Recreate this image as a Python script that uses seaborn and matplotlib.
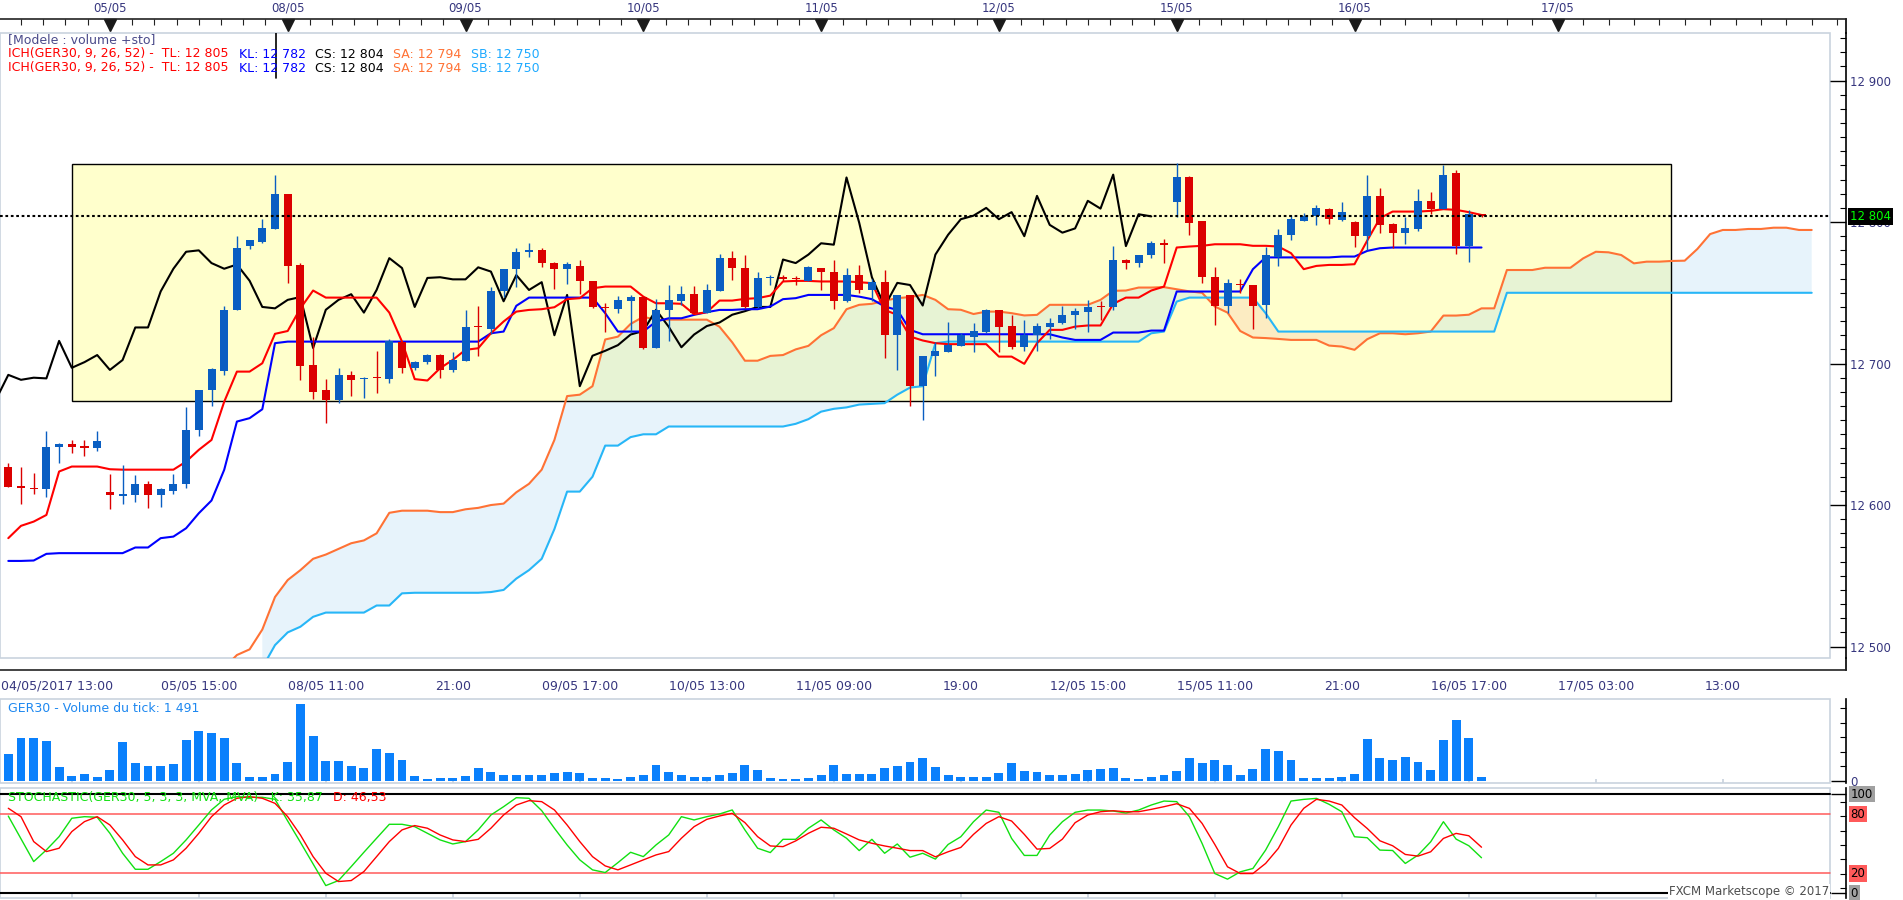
import numpy as np
import seaborn as sns
import matplotlib.pyplot as plt
import matplotlib.transforms as mtransforms
from matplotlib.patches import Rectangle
from matplotlib.ticker import FixedLocator, MultipleLocator

# GER30 hourly bars, bar index 0..116
opens = [12627, 12613.5, 12612, 12611, 12641, 12643, 12642, 12640, 12609, 12606.5,
         12607, 12615, 12607, 12610, 12615, 12653, 12681, 12695, 12738, 12783,
         12786, 12795, 12820, 12769.5, 12699, 12681, 12674, 12692, 12689, 12690,
         12689, 12715.5, 12697, 12701, 12706, 12695.5, 12702, 12726, 12724.5, 12751,
         12767, 12779, 12780, 12771, 12767, 12769, 12758.5, 12739.5, 12738.5, 12744.5,
         12747, 12711, 12737.5, 12744.5, 12749, 12736, 12751.5, 12774.5, 12767.5, 12740,
         12760.5, 12761, 12760, 12758.5, 12767.5, 12765, 12744, 12762.5, 12752, 12757.5,
         12720, 12748.5, 12684, 12705, 12708.5, 12712.5, 12719, 12722.5, 12738, 12726.5,
         12711.5, 12720.5, 12726, 12729, 12734, 12736.5, 12740.5, 12740, 12773.5, 12771,
         12776.5, 12784.5, 12814, 12831.5, 12800.5, 12761, 12741, 12756, 12755.5, 12741.5,
         12775, 12790.5, 12801, 12804, 12809, 12801.5, 12800, 12790, 12818.5, 12798.5,
         12792, 12795, 12815, 12809.5, 12834.5, 12783, 12805.5]
highs = [12630, 12627, 12622.5, 12652, 12644, 12646, 12646, 12652, 12622, 12628,
         12621, 12617, 12612, 12622, 12669, 12681, 12697, 12741, 12790, 12787,
         12802, 12833, 12820, 12771, 12719, 12689, 12697, 12695, 12690.5, 12709,
         12717, 12716, 12702, 12707, 12706.5, 12708.5, 12738, 12741, 12754, 12767,
         12781.5, 12785, 12782, 12771.5, 12771.5, 12773, 12758.5, 12742.5, 12748, 12748.5,
         12747.5, 12745.5, 12755.5, 12754.5, 12754.5, 12756, 12777.5, 12779.5, 12777, 12764.5,
         12762.5, 12762.5, 12762, 12769, 12767.5, 12773, 12767.5, 12769.5, 12760, 12766,
         12748.5, 12748.5, 12705.5, 12715.5, 12729.5, 12721.5, 12728.5, 12738.5, 12738, 12734,
         12731, 12729, 12732, 12741, 12739, 12745, 12744, 12783, 12774, 12777,
         12786.5, 12788, 12841.5, 12832.5, 12801, 12768.5, 12760, 12760, 12755.5, 12782.5,
         12795, 12805, 12806.5, 12812, 12810, 12814, 12800.5, 12833.5, 12824, 12799.5,
         12803.5, 12823.5, 12821.5, 12840, 12837, 12808.5, 12806]
lows = [12613, 12601, 12608, 12606, 12630, 12637, 12635, 12638, 12597, 12601,
        12602, 12598, 12598.5, 12608, 12612, 12649, 12670, 12692, 12738, 12781,
        12785, 12795, 12757, 12688.5, 12675, 12658, 12672, 12677, 12676, 12679.5,
        12686.5, 12693.5, 12695.5, 12700, 12690, 12694, 12702, 12705, 12721, 12747,
        12754, 12775, 12768.5, 12752.5, 12756, 12749, 12739.5, 12722.5, 12736, 12722.5,
        12710.5, 12711, 12716, 12741.5, 12735, 12735.5, 12751.5, 12759, 12739.5, 12739.5,
        12755.5, 12758, 12755.5, 12758, 12752, 12738.5, 12743.5, 12749.5, 12744, 12704,
        12695.5, 12670, 12660, 12691, 12708, 12712.5, 12708.5, 12721.5, 12708, 12710.5,
        12709, 12709, 12717, 12728, 12724.5, 12722, 12731, 12737.5, 12766.5, 12768,
        12774.5, 12771, 12803.5, 12791, 12757, 12727.5, 12735.5, 12749.5, 12724.5, 12732,
        12769, 12787.5, 12800.5, 12798, 12798.5, 12801, 12782.5, 12780.5, 12792.5, 12782,
        12784.5, 12793.5, 12806, 12809, 12777.5, 12772, 12803.5]
closes = [12613, 12612, 12611, 12641, 12643, 12641, 12640, 12645, 12607, 12607.5,
          12615, 12607, 12611, 12615, 12653, 12681, 12696, 12738, 12782, 12787,
          12796, 12820, 12769, 12698, 12680, 12674, 12692, 12688.5, 12690, 12689.5,
          12716, 12697, 12701, 12706, 12695.5, 12702.5, 12725.5, 12725.5, 12751, 12767,
          12779, 12780, 12771, 12767, 12770, 12758.5, 12740, 12739, 12745, 12747,
          12711, 12738, 12745, 12749, 12736, 12752, 12774.5, 12767.5, 12740, 12760.5,
          12761, 12759.5, 12759.5, 12768, 12765, 12744, 12762.5, 12752, 12757.5, 12720,
          12748.5, 12684, 12705.5, 12709, 12713, 12720.5, 12723, 12738, 12726, 12711.5,
          12720.5, 12726.5, 12729, 12734.5, 12737, 12740, 12740, 12773.5, 12771, 12777,
          12785, 12784, 12831.5, 12799.5, 12761, 12740.5, 12757, 12755.5, 12741, 12777,
          12791, 12802, 12804.5, 12810, 12802, 12807, 12790, 12818.5, 12798, 12792.5,
          12795.5, 12815, 12809.5, 12833.5, 12783, 12805.5, 12804]
volumes = [9900, 15900, 15900, 14900, 5100, 1700, 2500, 1500, 4000, 14400,
           6600, 5700, 5500, 6200, 15100, 18500, 17700, 15900, 6600, 1400,
           1400, 2500, 6900, 28500, 16600, 7300, 7300, 5500, 4700, 11800,
           10300, 7700, 1700, 750, 1000, 1000, 1700, 4700, 3200, 2100,
           2100, 2100, 2100, 2900, 3200, 2900, 1000, 1000, 600, 1400,
           2100, 5800, 3200, 2100, 1400, 1400, 2100, 2900, 5800, 4000,
           1000, 600, 600, 1000, 2100, 5800, 2500, 2500, 2500, 4700,
           5500, 6900, 8400, 5300, 2200, 1600, 1600, 1600, 3000, 6700,
           3700, 3300, 2200, 2200, 2600, 4100, 4500, 4800, 1100, 750,
           1500, 2200, 3700, 8700, 6700, 7800, 6000, 2200, 4500, 11900,
           11200, 7800, 1100, 1100, 1100, 1500, 2600, 15600, 8700, 7800,
           8900, 7100, 4100, 15300, 22700, 16000, 1491]
tenkan = [12576.6, 12585.3, 12588.3, 12593, 12623.7, 12627.2, 12627.2, 12627.2, 12625.3, 12625,
          12625, 12625, 12625, 12625, 12630.7, 12639, 12646, 12673, 12694.3, 12694.3,
          12700.2, 12721, 12723, 12739, 12751.6, 12746.6, 12746.6, 12746.6, 12746.6, 12746.6,
          12736, 12715.5, 12689, 12688, 12696.7, 12702.6, 12709.7, 12710.8, 12721.4, 12729.7,
          12736.7, 12737.9, 12738.4, 12739.8, 12745.5, 12746.2, 12753.2, 12754.4, 12754.4, 12754.4,
          12747.3, 12742.6, 12742.6, 12742.2, 12734.9, 12736.3, 12744.5, 12744.5, 12745.7, 12746.2,
          12748, 12758, 12758.4, 12758.4, 12758, 12758, 12758, 12757.5, 12756.8, 12737.9,
          12734.4, 12719.1, 12716.3, 12714.4, 12713.7, 12713.7, 12713.7, 12713.7, 12704.9, 12704.9,
          12699.8, 12714.4, 12723.8, 12723.8, 12726.1, 12726.9, 12726.9, 12742.2, 12746.6, 12746.6,
          12751.6, 12754.4, 12782, 12782.7, 12783.2, 12784.3, 12784.3, 12784.3, 12783.2, 12783.2,
          12782.7, 12778, 12766.7, 12769, 12769.7, 12769.7, 12770.2, 12786.9, 12802.7, 12807.4,
          12807.4, 12807.4, 12807.9, 12809.1, 12808.6, 12807, 12805]
kijun = ([12560.5, 12560.5, 12560.8, 12565.5, 12566, 12566, 12566, 12566, 12566, 12566,
          12570, 12570, 12576.6, 12577.7, 12583.6, 12594.2, 12603.2, 12624.9, 12659, 12661.4,
          12667.7, 12714.4] + [12715.5] * 16 + [12721.4, 12722.6,
          12740.8] + [12746.6] * 6 + [12735.6, 12722.6, 12722.6,
          12722.6, 12729.7, 12732, 12732, 12734.4, 12736.3, 12737.9, 12737.9, 12738.4, 12738.4,
          12740.3, 12745.5, 12746.2, 12748.5, 12748.5, 12748.5, 12748.5, 12747.3, 12745.5, 12740.3,
          12737.9, 12723.8] + [12720.7] * 11 + [12718.4, 12716.7, 12716.7, 12716.7,
          12721.9, 12721.9, 12721.9, 12723.3, 12723.3] + [12750.9] * 6 + [12766.7]
         + [12775] * 6 + [12775.6, 12775.6, 12779.6, 12781.5] + [12782] * 8)
# senkou spans are projected 26 bars ahead (index 0..142)
senkou_a = ([np.nan] * 17 + [12485, 12494, 12498,
            12512, 12535, 12547, 12554, 12562, 12565, 12569, 12573, 12575, 12580,
            12594.5, 12596, 12596, 12596, 12595, 12595, 12597, 12598, 12600, 12601,
            12609, 12615, 12625, 12646, 12677, 12678, 12684, 12717, 12719, 12728,
            12733, 12731, 12731, 12731, 12731, 12731, 12726, 12715, 12702, 12702,
            12705.4, 12706, 12710, 12712.5, 12720, 12725, 12738.4, 12741.5, 12742.2, 12744.5,
            12746.2, 12747, 12748.5, 12745, 12738.4, 12738, 12735, 12736.7, 12736.7, 12735.6,
            12734, 12734.4, 12741.5, 12741.5, 12741.5, 12741.5, 12745, 12751.4, 12751.6, 12753.7,
            12753.7, 12754, 12752.5, 12751, 12750, 12740.3, 12736, 12723, 12718.4, 12718,
            12717.4, 12716.7, 12716.7, 12716.7, 12712.7, 12712, 12709.7, 12717.2, 12721.4, 12721.4,
            12720.7, 12721.4, 12722.6, 12733.9, 12733.9, 12734.5, 12739, 12739, 12766.1, 12766.1,
            12766.1, 12767.7, 12767.7, 12767.7, 12774.3, 12779, 12778.6, 12776.7, 12770.8, 12772,
            12772, 12772.5, 12772.7, 12781, 12791.5, 12794.4, 12794.4, 12795.1, 12795.1, 12796,
            12796, 12794.4, 12794.4])
senkou_b = ([np.nan] * 20 + [12485, 12501, 12510, 12514, 12521, 12524, 12524, 12524, 12524, 12529,
            12529, 12537.6, 12538, 12538, 12538, 12538, 12538, 12538, 12538.5, 12540,
            12548, 12554, 12562, 12583, 12609.5, 12609.5, 12620, 12642, 12642, 12648,
            12650, 12650] + [12655.5] * 10 + [12657.4, 12660.7, 12666, 12668, 12669, 12671,
            12671.5, 12672, 12678, 12683, 12684, 12714.4] + [12715.5] * 16
            + [12721.4, 12722.6, 12743.8] + [12746.6] * 6 + [12735.6] + [12722.6] * 18
            + [12750] * 25)
stoch_k = [78, 55, 32, 43.8, 57.2, 75.8, 77.4, 76.8, 60.6, 40.4,
           24.2, 24.2, 32, 40.4, 53.9, 69, 84.2, 95, 97.6, 97,
           97, 95, 73, 51.5, 29.6, 7.7, 12.8, 26.9, 41.4, 55.6,
           69.7, 69.7, 67.3, 60.6, 53.9, 49.8, 52.2, 64, 79.1, 87.5,
           96.6, 96, 83.5, 65.7, 48.8, 33.7, 23.6, 20.9, 30.9, 41.4,
           37, 48.8, 58.9, 77.4, 74.1, 77.4, 80.1, 84.2, 64, 45.5,
           41.1, 54.5, 54.5, 65.7, 74.1, 64, 55.6, 43.1, 54.5, 40.4,
           49.8, 36.4, 40.4, 34.5, 49.3, 57.1, 72.3, 84.1, 81.8, 55.4,
           38.2, 38.2, 58.8, 72.3, 81.8, 84.1, 84.1, 83.1, 81.1, 84.1,
           89.2, 93.2, 92.6, 77.4, 50.3, 19.9, 14.2, 21.6, 25, 43.6,
           67.2, 93.2, 94.9, 95.9, 89.9, 82.4, 57.1, 56.1, 43.6, 43.2,
           30.1, 38.5, 52, 72.3, 54.7, 48, 35.87]
stoch_d = [85.9, 77.4, 52.2, 42.1, 45.5, 62.3, 72.4, 77.4, 69, 53.9,
           37, 28.6, 28.6, 33.7, 45.5, 60.6, 77.4, 89.2, 96, 97.6,
           96, 90.9, 77.4, 58.9, 37, 20.2, 11.8, 12.8, 21.9, 37,
           52.2, 64, 68.4, 65.7, 58.9, 53.9, 52.2, 54.5, 65.7, 79.1,
           89.2, 93.6, 92.6, 84.2, 69, 52.2, 37, 27.6, 23.6, 28.6,
           33.7, 38.7, 42.1, 55.6, 67.3, 74.7, 78.1, 80.8, 71.4, 57.2,
           47.8, 47.1, 52.9, 60.6, 66.7, 65.7, 59.9, 53.9, 50.5, 47.8,
           45.5, 43.1, 43.1, 36.8, 41.9, 46.3, 59.5, 70.6, 77.4, 73,
           59.5, 44.6, 45.3, 54.7, 71.3, 79.1, 82.4, 83.4, 82.4, 82.4,
           84.8, 87.5, 90.5, 85.8, 70.6, 49.3, 26.7, 19.9, 19.9, 30.1,
           45.3, 68.9, 85.8, 94.9, 93.2, 89.2, 76.4, 65.5, 53, 48,
           39.2, 37.5, 41.9, 55.4, 60.5, 58.1, 46.53]

day_pos = [8, 22, 36, 50, 64, 78, 92, 106, 122]
day_labels = ['05/05', '08/05', '09/05', '10/05', '11/05', '12/05', '15/05', '16/05', '17/05']
time_pos = [5, 15, 25, 35, 45, 55, 65, 75, 85, 95, 105, 115, 125, 135]
time_labels = ['04/05/2017 13:00', '05/05 15:00', '08/05 11:00', '21:00', '09/05 17:00',
               '10/05 13:00', '11/05 09:00', '19:00', '12/05 15:00', '15/05 11:00',
               '21:00', '16/05 17:00', '17/05 03:00', '13:00']
price_ticks = [12500, 12600, 12700, 12800, 12900]
last_price = 12804
zone_bars = (5.0, 130.9)        # yellow drawn rectangle
zone_prices = (12673.5, 12840.8)
cursor_bar = 21.1

sns.set_theme(style='white')
plt.rcParams['font.family'] = ['DejaVu Sans']

W, H = 1903, 900
XMIN, XMAX = -0.6535, 144.70
INNER = 1830 / 1846
LIGHT = '#C9D3DE'
AXC = '#36367E'
BULL, BEAR = '#0A5EC2', '#DB0000'

def box(x0, y0, x1, y1):
    return [x0 / W, 1 - y1 / H, (x1 - x0) / W, (y1 - y0) / H]

def frame(a, inner=True):
    for s in a.spines.values():
        s.set_visible(False)
    a.spines['right'].set_visible(True)
    a.spines['right'].set_color('black')
    a.spines['right'].set_linewidth(1.2)
    a.set_facecolor('none')
    a.set_xlim(XMIN, XMAX)
    a.set_xlabel('')
    a.set_ylabel('')
    if inner:
        a.add_patch(Rectangle((0, 0), INNER, 1, transform=a.transAxes, fill=False,
                              ec=LIGHT, lw=1.2, clip_on=False, zorder=0.2))

fig = plt.figure(figsize=(W / 100, H / 100), dpi=100)
fig.patch.set_facecolor('white')
ax_top = fig.add_axes(box(0, 19, 1846, 33))
ax = fig.add_axes(box(0, 33, 1846, 658))
ax_bot = fig.add_axes(box(0, 658, 1846, 670))
ax_vol = fig.add_axes(box(0, 699, 1846, 783))
ax_sto = fig.add_axes(box(0, 788, 1846, 898))

bars = np.arange(len(closes))
cloud_x = np.arange(len(senkou_a))
o, h, l, c = (np.array(v, dtype=float) for v in (opens, highs, lows, closes))
sa = np.array(senkou_a, dtype=float)
sb = np.array(senkou_b, dtype=float)

# ---- main price panel
ax.add_patch(Rectangle((zone_bars[0], zone_prices[0]), zone_bars[1] - zone_bars[0],
                       zone_prices[1] - zone_prices[0], fc='#FFFFCC', ec='none', zorder=0.5))
ax.fill_between(cloud_x, sa, sb, where=sa >= sb, interpolate=True,
                color=(148 / 255, 204 / 255, 241 / 255), alpha=0.22, lw=0, zorder=1)
ax.fill_between(cloud_x, sa, sb, where=sa < sb, interpolate=True,
                color=(246 / 255, 180 / 255, 168 / 255), alpha=0.25, lw=0, zorder=1)
ax.add_patch(Rectangle((zone_bars[0], zone_prices[0]), zone_bars[1] - zone_bars[0],
                       zone_prices[1] - zone_prices[0], fill=False, ec='black', lw=1.0, zorder=1.8))

sns.lineplot(x=cloud_x, y=sa, ax=ax, color='#FF7235', lw=1.5, estimator=None, sort=False, zorder=2)
sns.lineplot(x=cloud_x, y=sb, ax=ax, color='#27B6F7', lw=1.5, estimator=None, sort=False, zorder=2)
sns.lineplot(x=bars - 26, y=c, ax=ax, color='black', lw=1.5, estimator=None, sort=False, zorder=3)
sns.lineplot(x=bars, y=kijun, ax=ax, color='#0000FF', lw=1.5, estimator=None, sort=False, zorder=3)
sns.lineplot(x=bars, y=tenkan, ax=ax, color='#FF0000', lw=1.5, estimator=None, sort=False, zorder=3)

up = c >= o
cols = np.where(up, BULL, BEAR)
ax.vlines(bars, l, h, colors=cols, lw=1.0, zorder=4)
ax.bar(bars, np.maximum(np.abs(c - o), 1.0), bottom=np.minimum(o, c), width=0.63,
       color=cols, lw=0, zorder=5)

ax.axhline(last_price, xmin=0, xmax=INNER, color='black', lw=1.5, ls=(0, (1.3, 1.3)), zorder=6)
ax.axvline(cursor_bar, ymin=1 - 45 / 625, ymax=1, color='black', lw=1.2, zorder=6)

frame(ax)
ax.set_ylim(12491.9, 12933.6)
ax.set_xticks([])
ax.yaxis.tick_right()
ax.yaxis.set_major_locator(FixedLocator(price_ticks))
ax.set_yticklabels([f'{v:,}'.replace(',', ' ') for v in price_ticks])
ax.yaxis.set_minor_locator(MultipleLocator(10))
ax.tick_params(axis='y', which='major', direction='in', length=11.5, width=1, color='black',
               right=True, left=False, labelright=True, labelleft=False, pad=3,
               labelsize=8.5, labelcolor=AXC)
ax.tick_params(axis='y', which='minor', direction='in', length=4.3, width=0.8, color='black',
               right=True, left=False)
blend = mtransforms.blended_transform_factory(ax.transAxes, ax.transData)
ax.text(1.0022, last_price, f'{last_price:,}'.replace(',', ' '), transform=blend, ha='left',
        va='center', color='#00FF00', fontsize=8.5, zorder=10,
        bbox=dict(fc='black', ec='none', pad=1.6))

# ---- top date ruler
frame(ax_top, inner=False)
ax_top.spines['top'].set_visible(True)
ax_top.spines['top'].set_color('#222222')
ax_top.spines['top'].set_linewidth(1.2)
ax_top.set_ylim(0, 1)
ax_top.set_yticks([])
ax_top.xaxis.tick_top()
ax_top.set_xticks(day_pos)
ax_top.set_xticklabels(day_labels)
top_minor = list(np.arange(1, 106, 1.75)) + list(np.arange(106, 145, 2))
ax_top.xaxis.set_minor_locator(FixedLocator(top_minor))
ax_top.tick_params(axis='x', which='major', length=0, pad=3, labelsize=8.5, labelcolor=AXC,
                   top=True, bottom=False, labeltop=True, labelbottom=False)
ax_top.tick_params(axis='x', which='minor', direction='in', length=4.3, width=0.8,
                   color='#222222', top=True, bottom=False)
ax_top.plot(day_pos, [0.6] * len(day_pos), ls='none', marker='v', ms=8,
            color='#1A1A1A', clip_on=False)

# ---- bottom time ruler
frame(ax_bot, inner=False)
ax_bot.spines['bottom'].set_visible(True)
ax_bot.spines['bottom'].set_color('#222222')
ax_bot.spines['bottom'].set_linewidth(1.2)
ax_bot.set_ylim(0, 1)
ax_bot.set_yticks([])
ax_bot.set_xticks(time_pos)
ax_bot.set_xticklabels([''] + time_labels[1:])
ax_bot.xaxis.set_minor_locator(FixedLocator(np.arange(0, 144.7, 1.25)))
ax_bot.tick_params(axis='x', which='major', direction='in', length=8.6, width=1,
                   color='#222222', pad=7, labelsize=9, labelcolor=AXC)
ax_bot.tick_params(axis='x', which='minor', direction='in', length=5, width=0.8,
                   color='#222222')
ax_bot.annotate(time_labels[0], xy=(XMIN, 0), xycoords=('data', 'axes fraction'),
                xytext=(0.5, -7), textcoords='offset points', ha='left', va='top',
                fontsize=9, color=AXC, annotation_clip=False)

# ---- volume panel
sns.barplot(x=bars, y=volumes, ax=ax_vol, native_scale=True, color='#0A80FC',
            saturation=1, width=0.7, errorbar=None, linewidth=0)
frame(ax_vol)
ax_vol.set_ylim(-744, 30504)
ax_vol.yaxis.tick_right()
ax_vol.yaxis.set_major_locator(FixedLocator([0]))
ax_vol.set_yticklabels(['0'])
ax_vol.yaxis.set_minor_locator(MultipleLocator(5400))
ax_vol.tick_params(axis='y', which='major', direction='in', length=11, width=1, color='black',
                   right=True, left=False, labelright=True, labelleft=False, pad=3,
                   labelsize=8.5, labelcolor=AXC)
ax_vol.tick_params(axis='y', which='minor', direction='in', length=4.3, width=0.8,
                   color='black', right=True, left=False)
ax_vol.set_xticks(time_pos)
ax_vol.tick_params(axis='x', which='major', direction='in', length=3, color=LIGHT,
                   bottom=True, labelbottom=False)
fig.text(8.5 / W, 1 - 708 / H, 'GER30 - Volume du tick: 1 491', color='#1E88F0',
         fontsize=9, va='center', ha='left')

# ---- stochastic panel
ax_sto.axhline(100, xmax=INNER, color='black', lw=1.5, zorder=1)
ax_sto.axhline(0, xmax=INNER, color='black', lw=1.5, zorder=1)
ax_sto.axhline(80, xmax=INNER, color='#FF5A5A', lw=1.1, zorder=1)
ax_sto.axhline(20, xmax=INNER, color='#FF5A5A', lw=1.1, zorder=1)
sns.lineplot(x=bars, y=stoch_k, ax=ax_sto, color='#11E011', lw=1.0, estimator=None,
             sort=False, zorder=3)
sns.lineplot(x=bars, y=stoch_d, ax=ax_sto, color='#FF0000', lw=1.0, estimator=None,
             sort=False, zorder=3)
frame(ax_sto)
ax_sto.set_ylim(-4.85, 106.4)
ax_sto.yaxis.tick_right()
ax_sto.yaxis.set_major_locator(FixedLocator([0, 100]))
ax_sto.set_yticklabels(['', ''])
ax_sto.yaxis.set_minor_locator(FixedLocator(np.arange(5.3, 100, 14.5)))
ax_sto.tick_params(axis='y', which='major', direction='in', length=11, width=1, color='black',
                   right=True, left=False, labelright=True, labelleft=False)
ax_sto.tick_params(axis='y', which='minor', direction='in', length=4.3, width=0.8,
                   color='black', right=True, left=False)
ax_sto.set_xticks(time_pos)
ax_sto.tick_params(axis='x', which='major', direction='in', length=3, color=LIGHT,
                   bottom=True, labelbottom=False)
sblend = mtransforms.blended_transform_factory(ax_sto.transAxes, ax_sto.transData)
for v, bg in [(100, '#A0A0A0'), (80, '#FF5A5A'), (20, '#FF5A5A'), (0, '#A0A0A0')]:
    ax_sto.text(1.0025, v, str(v), transform=sblend, ha='left', va='center', fontsize=8.5,
                color='black', bbox=dict(fc=bg, ec='none', pad=1.2), clip_on=False)
fig.text(8.5 / W, 1 - 797 / H, 'STOCHASTIC(GER30, 5, 3, 3, MVA, MVA) - K: 35,87',
         color='#11E011', fontsize=9, va='center', ha='left')
fig.text(333 / W, 1 - 797 / H, 'D: 46,53', color='#FF0000', fontsize=9, va='center', ha='left')
fig.text(1829 / W, 1 - 892 / H, 'FXCM Marketscope © 2017', color='#4D4D4D', fontsize=8.5,
         va='center', ha='right', bbox=dict(fc='white', ec='none', pad=0.8))

# ---- indicator legend
fig.text(8.5 / W, 1 - 40 / H, '[Modele : volume +sto]', color='#4A4A8A', fontsize=9,
         va='center', ha='left')
for row_y in (54, 68):
    for x, s, col in [(8.5, 'ICH(GER30, 9, 26, 52) -  TL: 12 805', '#FF0000'),
                      (238.6, 'KL: 12 782', '#0000FF'),
                      (315.4, 'CS: 12 804', '#000000'),
                      (393.4, 'SA: 12 794', '#FF7235'),
                      (471, 'SB: 12 750', '#1EAAFF')]:
        fig.text(x / W, 1 - row_y / H, s, color=col, fontsize=9, va='center', ha='left')

fig.savefig('out.png', dpi=100, facecolor='white')
